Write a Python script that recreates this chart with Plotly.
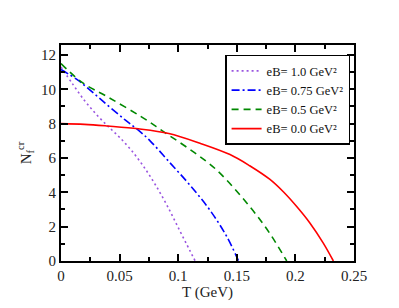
import plotly.graph_objects as go

# eB = 1.0 GeV^2
T_10 = [0, 0.01, 0.02, 0.03, 0.04, 0.05, 0.06, 0.07, 0.08, 0.09, 0.10, 0.11, 0.1145]
N_10 = [11.3, 10.3, 9.35, 8.55, 7.85, 7.2, 6.45, 5.55, 4.5, 3.3, 1.95, 0.6, 0.0]

# eB = 0.75 GeV^2
T_075 = [0, 0.015, 0.035, 0.055, 0.066, 0.076, 0.093, 0.11, 0.127, 0.1414, 0.1515]
N_075 = [11.15, 10.5, 9.35, 8.2, 7.62, 7.0, 5.72, 4.42, 2.97, 1.43, 0.0]

# eB = 0.5 GeV^2
T_05 = [0, 0.018, 0.04, 0.069, 0.09, 0.113, 0.133, 0.161, 0.178, 0.1926]
N_05 = [11.5, 10.4, 9.55, 8.38, 7.42, 6.35, 5.29, 3.17, 1.62, 0.0]

# eB = 0.0 GeV^2
T_00 = [0, 0.02, 0.04, 0.066, 0.092, 0.1186, 0.1442, 0.161, 0.1783, 0.1897, 0.2011, 0.2125, 0.2238, 0.2324]
N_00 = [8.0, 7.96, 7.86, 7.7, 7.43, 6.86, 6.2, 5.55, 4.75, 4.03, 3.17, 2.2, 1.04, 0.0]

labels = ["eB= 1.0 GeV²", "eB= 0.75 GeV²", "eB= 0.5 GeV²", "eB= 0.0 GeV²"]

serif = "Liberation Serif"

fig = go.Figure()
fig.add_trace(go.Scatter(x=T_10, y=N_10, mode="lines", name=labels[0],
                         line=dict(color="#9a55e0", width=1.6, dash="2px,3px", shape="spline", smoothing=1)))
fig.add_trace(go.Scatter(x=T_075, y=N_075, mode="lines", name=labels[1],
                         line=dict(color="#0000ff", width=1.6, dash="8px,3px,2px,3px", shape="spline", smoothing=1)))
fig.add_trace(go.Scatter(x=T_05, y=N_05, mode="lines", name=labels[2],
                         line=dict(color="#008800", width=1.6, dash="7px,5px", shape="spline", smoothing=1)))
fig.add_trace(go.Scatter(x=T_00, y=N_00, mode="lines", name=labels[3],
                         line=dict(color="#ff0000", width=1.6, shape="spline", smoothing=1)))

axis_common = dict(
    showline=True, linecolor="black", linewidth=2, mirror="allticks",
    ticks="inside", ticklen=7, tickwidth=1.5, tickcolor="black",
    showgrid=False, zeroline=False,
    tickfont=dict(family=serif, size=15, color="#222"),
    minor=dict(ticks="inside", ticklen=4, tickwidth=1.5, tickcolor="black", showgrid=False),
)

fig.update_xaxes(range=[0, 0.25], tickvals=[0, 0.05, 0.1, 0.15, 0.2, 0.25],
                 ticktext=["0", "0.05", "0.1", "0.15", "0.2", "0.25"],
                 minor_dtick=0.025,
                 title=dict(text="T (GeV)", font=dict(family=serif, size=15, color="#222"), standoff=2),
                 **axis_common)
fig.update_yaxes(range=[0, 12.58], tickvals=[0, 2, 4, 6, 8, 10, 12],
                 minor_dtick=1,
                 title=dict(text="N<sub>f</sub><sup>cr</sup>", font=dict(family=serif, size=15, color="#222"), standoff=6),
                 **axis_common)

fig.update_layout(
    width=399, height=308,
    margin=dict(l=61, r=45, t=45, b=47),
    paper_bgcolor="white", plot_bgcolor="white",
    showlegend=True,
    legend=dict(x=0.56, y=0.955, xanchor="left", yanchor="top",
                bordercolor="black", borderwidth=1.5, bgcolor="white",
                font=dict(family=serif, size=12.5, color="#111"),
                tracegroupgap=0, itemwidth=30),
)

fig.write_html("out.html", config={"displayModeBar": False},
               post_script="document.body.style.margin='0';document.body.style.padding='0';")
